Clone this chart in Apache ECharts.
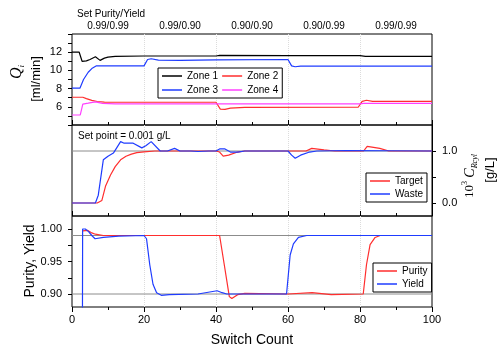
<!DOCTYPE html>
<html>
<head>
<meta charset="utf-8">
<script src="https://cdn.jsdelivr.net/npm/echarts@6/dist/echarts.min.js"></script>
<style>
  html, body { margin: 0; padding: 0; background: #fff; }
  #chart { width: 500px; height: 348px; }
</style>
</head>
<body>
<div id="chart"></div>
<script>
// flow rates per zone [switch, ml/min]
const zone1 = [[0,12],[2,12],[2.8,11],[4,11.05],[5,11.2],[6.5,11.5],[7.8,11.1],[9,11.35],[10,11.45],[12,11.55],[20,11.58],[40,11.58],[41,11.65],[60,11.62],[80,11.62],[81.5,11.55],[100,11.55]];
const zone2 = [[0,7.05],[3,7.05],[4,6.9],[5.5,6.7],[7,6.58],[9,6.52],[12,6.5],[40,6.5],[40.5,6.45],[41.2,5.75],[42.5,5.72],[44,5.85],[48,5.93],[79.5,5.95],[80.6,6.6],[81.8,6.72],[83.5,6.6],[100,6.6]];
const zone3 = [[0,8.05],[2.2,8.05],[3.2,9.0],[4.5,9.8],[5.5,10.2],[6.8,10.5],[20,10.5],[21,11.2],[22,11.28],[24,11.12],[30,11.1],[40,11.15],[60,11.2],[61,10.5],[62,10.4],[63.5,10.48],[100,10.48]];
const zone4 = [[0,5.1],[2.3,5.1],[3,6.3],[4.5,6.4],[6.5,6.55],[8.5,6.38],[12,6.32],[80,6.32],[81,6.38],[100,6.38]];

// recycle concentration (10^3 g/L)
const target = [[0,0],[7,0],[8.3,0.05],[9.3,0.32],[10.7,0.54],[12,0.7],[13.5,0.83],[15,0.9],[16.5,0.94],[18,0.97],[20,0.985],[23,1.0],[40,1.0],[41,0.98],[42,0.9],[43.5,0.92],[46,0.98],[48,1.0],[65,1.0],[66.6,1.05],[70,1.02],[73,1.0],[81,1.0],[82,1.09],[85.5,1.05],[88,1.0],[100,1.0]];
const waste = [[0,0],[6.5,0],[7.3,0.15],[8.7,0.83],[10,0.9],[11.5,0.96],[13.5,1.18],[14.5,1.15],[17,1.15],[19.4,1.06],[20.5,1.1],[22,1.18],[24.5,1.0],[26.5,1.0],[28.5,1.05],[30,1.0],[33,1.0],[35,0.99],[38,1.0],[40,1.0],[41,1.04],[42.5,1.04],[44,0.98],[46,0.98],[48,1.0],[60,1.0],[61,0.92],[62,0.86],[63.5,0.92],[66,0.98],[68,1.0],[76,1.01],[100,1.0]];

// purity / yield
const purity = [[3,0.997],[4.3,0.998],[5.5,0.994],[6.5,0.992],[8.7,0.99],[41,0.99],[42.3,0.945],[43.7,0.896],[44.4,0.893],[46,0.899],[48,0.901],[60,0.9],[66.7,0.902],[72,0.899],[80.9,0.9],[81.8,0.945],[82.8,0.976],[84.2,0.987],[85.6,0.99],[100,0.99]];
const yieldData = [[2.9,0.85],[2.95,1.0],[3.7,1.0],[4.6,0.996],[5.5,0.99],[6.4,0.985],[8.7,0.987],[13,0.989],[20,0.99],[20.7,0.985],[21.6,0.945],[22.5,0.915],[23.5,0.902],[24.8,0.898],[27,0.899],[35,0.9],[40.3,0.905],[41.7,0.902],[43,0.9],[59.6,0.9],[60.6,0.96],[61.5,0.977],[62.9,0.987],[65.2,0.99],[100,0.99]];

const setLabels = ['0.99/0.99', '0.99/0.90', '0.90/0.90', '0.90/0.99', '0.99/0.99'];
const setLabelX = [10, 30, 50, 70, 90];
const setPoint = 1.0;
const purityYieldRefs = [0.99, 0.90];

const font = 'Liberation Sans, Arial, sans-serif';
const RED = '#ff2e2e', BLUE = '#1f3cff', MAG = '#ff40ff', BLACK = '#000';

const chart = echarts.init(document.getElementById('chart'));

function xAx(grid, inside, labels) {
  return {
    type: 'value', gridIndex: grid, min: 0, max: 100, interval: 20,
    axisLine: { show: false, onZero: false },
    axisTick: { show: true, inside: inside, length: 5, lineStyle: { color: '#000' } },
    minorTick: { show: true, splitNumber: 2, length: 3, lineStyle: { color: '#000' } },
    axisLabel: { show: labels, color: '#000', fontSize: 11, fontFamily: font, margin: 7 },
    splitLine: { show: true, showMinLine: false, showMaxLine: false, lineStyle: { color: '#dcdcdc', type: 'dotted', width: 1 } }
  };
}

function line(name, data, color, xi, yi) {
  return {
    name: name, type: 'line', data: data, xAxisIndex: xi, yAxisIndex: yi,
    symbol: 'none', lineStyle: { color: color, width: 1.2 }, itemStyle: { color: color },
    z: 3, animation: false
  };
}

// horizontal grey reference line across the full x range
function refLine(value, xi, yi) {
  return {
    type: 'line', data: [[0, value], [100, value]], xAxisIndex: xi, yAxisIndex: yi,
    z: 2, silent: true, symbol: 'none', animation: false,
    lineStyle: { color: '#8c8c8c', width: 1 }
  };
}

const legendBase = {
  icon: 'rect', itemWidth: 20, itemHeight: 1.5, padding: [3, 4, 3, 4], z: 10,
  borderColor: '#000', borderWidth: 1, backgroundColor: '#fff',
  textStyle: { fontSize: 10, color: '#000', fontFamily: font, lineHeight: 10 }
};

chart.setOption({
  animation: false,
  textStyle: { fontFamily: font },
  grid: [
    { left: 72, top: 34, width: 360, height: 91, show: true, borderColor: '#000', borderWidth: 1 },
    { left: 72, top: 125, width: 360, height: 91, show: true, borderColor: '#000', borderWidth: 1 },
    { left: 72, top: 216, width: 360, height: 91, show: true, borderColor: '#000', borderWidth: 1 }
  ],
  xAxis: [
    xAx(0, true, false),
    xAx(1, true, false),
    Object.assign(xAx(2, false, true), {
      name: 'Switch Count', nameLocation: 'middle', nameGap: 26,
      nameTextStyle: { fontSize: 14, color: '#000', fontFamily: font }
    }),
    {
      type: 'value', gridIndex: 0, position: 'top', min: 0, max: 100,
      axisLine: { show: false, onZero: false }, axisTick: { show: false }, splitLine: { show: false },
      axisLabel: {
        customValues: setLabelX, margin: 3, fontSize: 10, color: '#000', fontFamily: font,
        formatter: v => setLabels[setLabelX.indexOf(v)]
      }
    }
  ],
  yAxis: [
    {
      type: 'value', gridIndex: 0, min: 4, max: 14, interval: 1,
      axisLine: { show: false, onZero: false }, splitLine: { show: false },
      axisTick: { show: true, length: 4, lineStyle: { color: '#000' } },
      axisLabel: {
        margin: 10, fontSize: 11, color: '#000', fontFamily: font,
        formatter: v => (v % 2 === 0 && v > 4 && v < 14) ? String(v) : ''
      }
    },
    {
      type: 'value', gridIndex: 1, position: 'right', min: -0.25, max: 1.5,
      axisLine: { show: true, onZero: false, lineStyle: { color: '#000', width: 1 } },
      splitLine: { show: false },
      axisTick: { show: true, inside: false, length: 4, customValues: [0, 0.5, 1], lineStyle: { color: '#000' } },
      axisLabel: {
        customValues: [0, 1], margin: 10, fontSize: 11, color: '#000', fontFamily: font,
        formatter: v => v.toFixed(1)
      }
    },
    {
      type: 'value', gridIndex: 2, min: 0.88, max: 1.02,
      axisLine: { show: false, onZero: false }, splitLine: { show: false },
      axisTick: { show: true, length: 4, customValues: [0.9, 0.925, 0.95, 0.975, 1.0], lineStyle: { color: '#000' } },
      axisLabel: {
        customValues: [0.9, 0.95, 1.0], margin: 10, fontSize: 11, color: '#000', fontFamily: font,
        formatter: v => v.toFixed(2)
      }
    }
  ],
  legend: [
    Object.assign({}, legendBase, {
      data: ['Zone 1', 'Zone 2', 'Zone 3', 'Zone 4'], left: 158, top: 68, width: 140, itemGap: 4
    }),
    Object.assign({}, legendBase, {
      data: ['Target', 'Waste'], left: 366, top: 173, orient: 'vertical', itemGap: 3
    }),
    Object.assign({}, legendBase, {
      data: ['Purity', 'Yield'], left: 373, top: 263, orient: 'vertical', itemGap: 3
    })
  ],
  series: [
    refLine(setPoint, 1, 1),
    refLine(purityYieldRefs[0], 2, 2),
    refLine(purityYieldRefs[1], 2, 2),
    line('Zone 1', zone1, BLACK, 0, 0),
    line('Zone 2', zone2, RED, 0, 0),
    line('Zone 3', zone3, BLUE, 0, 0),
    line('Zone 4', zone4, MAG, 0, 0),
    line('Target', target, RED, 1, 1),
    line('Waste', waste, BLUE, 1, 1),
    line('Purity', purity, RED, 2, 2),
    line('Yield', yieldData, BLUE, 2, 2)
  ],
  graphic: [
    { type: 'text', x: 77, y: 14, style: { text: 'Set Purity/Yield', font: '10px ' + font, fill: '#000', textAlign: 'left', textVerticalAlign: 'middle', align: 'left', verticalAlign: 'middle' } },
    { type: 'text', x: 78, y: 136, style: { text: 'Set point = 0.001 g/L', font: '10px ' + font, fill: '#000', textAlign: 'left', textVerticalAlign: 'middle', align: 'left', verticalAlign: 'middle' } },
    { type: 'text', x: 17, y: 72, rotation: Math.PI / 2, style: {
        text: '{q|Q}{s|i}', fill: '#000', textAlign: 'center', textVerticalAlign: 'middle', align: 'center', verticalAlign: 'middle',
        rich: {
          q: { fontFamily: 'Liberation Serif, serif', fontStyle: 'italic', fontSize: 16, lineHeight: 18, verticalAlign: 'middle' },
          s: { fontFamily: 'Liberation Serif, serif', fontStyle: 'italic', fontSize: 9, lineHeight: 18, verticalAlign: 'bottom', padding: [8, 0, 0, 0] }
        } } },
    { type: 'text', x: 36, y: 79, rotation: Math.PI / 2, style: { text: '[ml/min]', font: '13px ' + font, fill: '#000', textAlign: 'center', textVerticalAlign: 'middle', align: 'center', verticalAlign: 'middle' } },
    { type: 'text', x: 30, y: 261, rotation: Math.PI / 2, style: { text: 'Purity, Yield', font: '14px ' + font, fill: '#000', textAlign: 'center', textVerticalAlign: 'middle', align: 'center', verticalAlign: 'middle' } },
    { type: 'text', x: 470, y: 176, rotation: Math.PI / 2, style: {
        text: '{n|10}{p|3}{n| }{c|C}{s|Rcyl}', fill: '#000', textAlign: 'center', textVerticalAlign: 'middle', align: 'center', verticalAlign: 'middle',
        rich: {
          n: { fontFamily: 'Liberation Serif, serif', fontSize: 13, lineHeight: 18, verticalAlign: 'middle' },
          p: { fontFamily: 'Liberation Serif, serif', fontSize: 8, lineHeight: 18, verticalAlign: 'top', padding: [0, 0, 8, 0] },
          c: { fontFamily: 'Liberation Serif, serif', fontStyle: 'italic', fontSize: 14, lineHeight: 18, verticalAlign: 'middle' },
          s: { fontFamily: 'Liberation Serif, serif', fontStyle: 'italic', fontSize: 8, lineHeight: 18, verticalAlign: 'bottom', padding: [8, 0, 0, 0] }
        } } },
    { type: 'text', x: 490, y: 170, rotation: Math.PI / 2, style: { text: '[g/L]', font: '13px ' + font, fill: '#000', textAlign: 'center', textVerticalAlign: 'middle', align: 'center', verticalAlign: 'middle' } }
  ]
});
</script>
</body>
</html>
